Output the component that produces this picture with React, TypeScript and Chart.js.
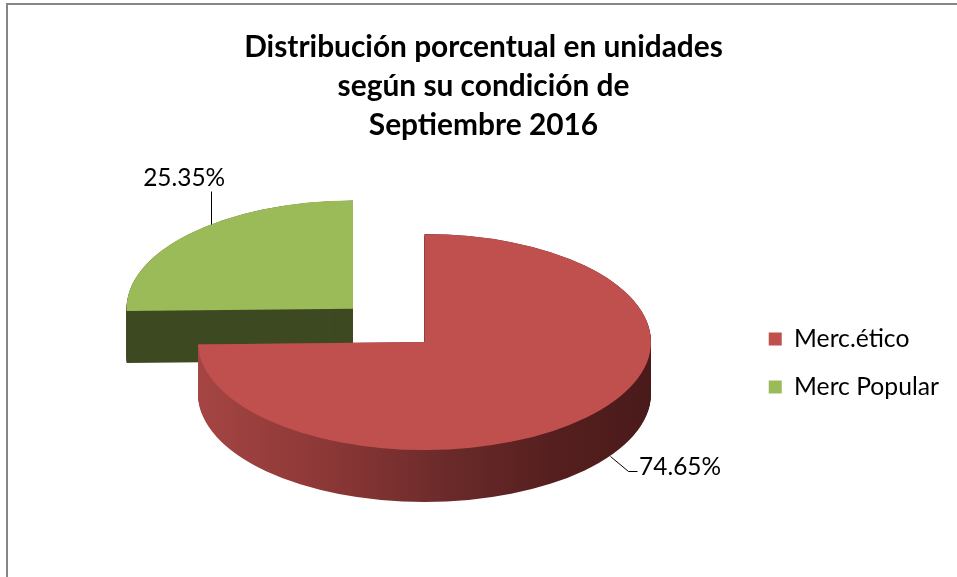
import { useEffect, useRef } from 'react';
import { Chart, registerables } from 'chart.js';

Chart.register(...registerables);

// ---- data ----
const titleLines = ['Distribución porcentual en unidades', 'según su condición de', 'Septiembre 2016'];
const categories = ['Merc.ético', 'Merc Popular'];
const shares = [74.65, 25.35];

// ---- styles / layout ----
const FAMILY = 'Lato';
const TOP_COLORS = ['#C0504D', '#9BBB59'];
const GREEN_SIDE = '#3E4A22';
const RED_SIDE_STOPS: [number, string][] = [
  [0, '#A54543'],
  [0.3, '#8A3736'],
  [0.55, '#6B2A2A'],
  [0.78, '#561F1F'],
  [1, '#4A1A1A'],
];
const PIE = { cx: 424.5, cy: 342, r: 226.5, tilt: 0.477, depth: 52, explode: 100 };
// leader-line styles per slice: anchor fraction along arc, whether on the bottom rim
const LEADERS = [
  { frac: 0.465, bottom: true, path: [[0, 0], [18, 15], [27, 15]], text: [29, 11], align: 'left' },
  { frac: 0.575, bottom: false, path: [[0, 0], [0, -33]], text: [-27, -46], align: 'center' },
];

function fitSize(text: string, weight: string, target: number) {
  const c = document.createElement('canvas').getContext('2d')!;
  c.font = `${weight} 100px ${FAMILY}`;
  return (100 * target) / c.measureText(text).width;
}

function geom(arc: any) {
  const p = arc.getProps(['x', 'y', 'startAngle', 'endAngle', 'outerRadius'], true);
  const off = (arc.options.offset || 0) / 4;
  const mid = (p.startAngle + p.endAngle) / 2;
  return {
    x: p.x,
    y: p.y,
    start: p.startAngle,
    end: p.endAngle,
    r: p.outerRadius,
    vx: p.x + Math.cos(mid) * off,
    vy: p.y + Math.sin(mid) * off,
  };
}

function setPieTransform(ctx: CanvasRenderingContext2D, g: any) {
  ctx.translate(PIE.cx, PIE.cy);
  ctx.scale(1, PIE.tilt);
  ctx.translate(-g.x, -g.y);
}

function toScreen(g: any, x: number, y: number) {
  return [PIE.cx + (x - g.x), PIE.cy + PIE.tilt * (y - g.y)];
}

const framePlugin = {
  id: 'frame',
  beforeDraw(chart: any) {
    const ctx = chart.ctx;
    ctx.save();
    ctx.fillStyle = '#868686';
    ctx.fillRect(6, 3, chart.width - 6, 2);
    ctx.fillRect(6, 3, 2, chart.height - 3);
    ctx.restore();
  },
};

function makePie3d(labelSize: number) {
  return {
    id: 'pie3d',
    beforeDatasetsDraw(chart: any) {
      const ctx: CanvasRenderingContext2D = chart.ctx;
      const arcs = chart.getDatasetMeta(0).data;
      ctx.save();
      setPieTransform(ctx, geom(arcs[0]));
      const order = [1, 0];
      for (const i of order) {
        const g = geom(arcs[i]);
        if (i === 0) {
          const grad = ctx.createLinearGradient(g.x - g.r, 0, g.x + g.r, 0);
          RED_SIDE_STOPS.forEach(([t, c]) => grad.addColorStop(t, c));
          ctx.fillStyle = grad;
        } else {
          ctx.fillStyle = GREEN_SIDE;
        }
        const step = 1 / PIE.tilt;
        for (let d = PIE.depth / PIE.tilt; d > 0; d -= step) {
          ctx.beginPath();
          ctx.moveTo(g.vx, g.vy + d);
          ctx.arc(g.vx, g.vy + d, g.r, g.start, g.end);
          ctx.closePath();
          ctx.fill();
        }
      }
    },
    afterDatasetsDraw(chart: any) {
      const ctx: CanvasRenderingContext2D = chart.ctx;
      ctx.restore();
      const arcs = chart.getDatasetMeta(0).data;
      ctx.save();
      ctx.font = `${labelSize}px ${FAMILY}`;
      ctx.fillStyle = '#000';
      ctx.strokeStyle = '#000';
      ctx.lineWidth = 1;
      ctx.textBaseline = 'middle';
      arcs.forEach((arc: any, i: number) => {
        const g = geom(arc);
        const L = LEADERS[i];
        const ang = g.start + L.frac * (g.end - g.start);
        const px = g.vx + Math.cos(ang) * g.r;
        const py = g.vy + Math.sin(ang) * g.r + (L.bottom ? PIE.depth / PIE.tilt : 0);
        const [sx, sy] = toScreen(g, px, py);
        ctx.beginPath();
        L.path.forEach(([dx, dy], k) => {
          const X = Math.round(sx + dx) + 0.5;
          const Y = Math.round(sy + dy) + 0.5;
          if (k === 0) ctx.moveTo(X, Y);
          else ctx.lineTo(X, Y);
        });
        ctx.stroke();
        ctx.textAlign = L.align as CanvasTextAlign;
        ctx.fillText(shares[i].toFixed(2) + '%', sx + L.text[0], sy + L.text[1]);
      });
      ctx.restore();
    },
  };
}

export default function App() {
  const ref = useRef<HTMLCanvasElement>(null);
  useEffect(() => {
    const canvas = ref.current!;
    const titleSize = fitSize(titleLines[0], 'bold', 479);
    const legendSize = fitSize(categories[1], 'normal', 145);
    const labelSize = fitSize('74.65%', 'normal', 82);
    const chart = new Chart(canvas, {
      type: 'pie',
      data: {
        labels: categories,
        datasets: [
          {
            data: shares,
            backgroundColor: TOP_COLORS,
            borderColor: 'rgba(0,0,0,0)',
            borderWidth: 0,
            offset: [0, PIE.explode * 4],
            hoverOffset: 0,
            clip: false,
          } as any,
        ],
      },
      options: {
        responsive: false,
        devicePixelRatio: 1,
        animation: false,
        events: [],
        radius: PIE.r,
        layout: { padding: { left: 18, right: 8, top: 0, bottom: 0 } },
        plugins: {
          tooltip: { enabled: false },
          title: {
            display: true,
            text: titleLines,
            color: '#000',
            font: { family: FAMILY, size: titleSize, weight: 'bold', lineHeight: 39 / titleSize },
            padding: { top: 28, bottom: 4 },
          },
          legend: {
            position: 'right',
            fullSize: false,
            labels: {
              color: '#000',
              boxWidth: 13,
              boxHeight: 13,
              padding: 48 - legendSize,
              font: { family: FAMILY, size: legendSize },
            },
          },
        },
      } as any,
      plugins: [framePlugin, makePie3d(labelSize)],
    });
    return () => chart.destroy();
  }, []);
  return (
    <div style={{ position: 'fixed', left: 0, top: 0, width: 957, height: 577, overflow: 'hidden', background: '#fff' }}>
      <canvas ref={ref} width={957} height={577} style={{ display: 'block' }} />
    </div>
  );
}
